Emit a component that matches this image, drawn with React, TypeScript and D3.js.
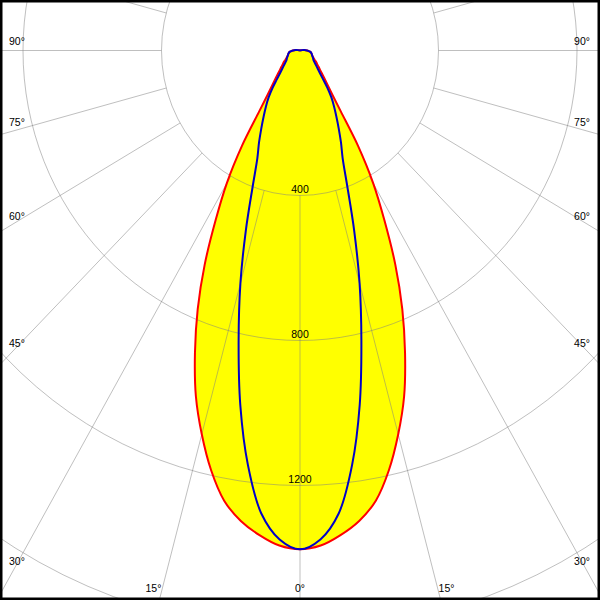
import React from "react";
import * as d3 from "d3";

// Polar angles (degrees from nadir) and luminous intensities (cd)
const angles = [
  0, 2.5, 5, 7.5, 10, 12.5, 15, 17.5, 20, 22.5, 25, 27.5, 30, 32.5, 35, 37.5, 40,
  42.5, 45, 47.5, 50, 52.5, 55, 57.5, 60, 62.5, 65, 67.5, 70, 72.5, 75, 77.5, 80,
  82.5, 85, 87.5, 90, 92.5, 95, 97.5, 100, 102.5, 105,
];
const planeC0 = [
  1376, 1367, 1342, 1309, 1261, 1186, 1096, 1000, 887, 772, 651, 528, 423, 312, 206,
  153, 124, 104, 89, 78, 70, 63, 58, 52, 47, 44, 41, 39, 37, 36, 35, 33.5, 32, 30, 27,
  24, 20, 16.5, 13, 10, 6, 3, 0,
];
const planeC90 = [
  1376, 1350, 1282, 1153, 993, 819, 665, 520, 400, 322, 280, 242, 210, 183, 158, 130,
  104, 86, 74, 65, 58, 52.5, 48, 45.5, 44, 42, 40, 38.5, 37, 36, 35, 33.5, 32, 30, 27,
  24, 20, 16.5, 13, 10, 6, 3, 0,
];
const ringValues = [400, 800, 1200, 1600];
const ringLabels = ["400", "800", "1200"];
const spokeAngles = d3.range(-180, 181, 15);
const angleLabels = [0, 15, 30, 45, 60, 75, 90];

const W = 600;
const H = 600;
const cx = 300;
const cy = 50.5;
const rx = d3.scaleLinear().domain([0, 1600]).range([0, 554]);
const ry = d3.scaleLinear().domain([0, 1600]).range([0, 580]);
const rad = (deg: number) => (deg * Math.PI) / 180;
const px = (deg: number, v: number) => cx - rx(v) * Math.sin(rad(deg));
const py = (deg: number, v: number) => cy + ry(v) * Math.cos(rad(deg));

function fullCurve(vals: number[]) {
  const pts: [number, number][] = [];
  for (let i = angles.length - 1; i >= 0; i--) pts.push([px(angles[i], vals[i]), py(angles[i], vals[i])]);
  for (let i = 1; i < angles.length; i++) pts.push([px(-angles[i], vals[i]), py(-angles[i], vals[i])]);
  return d3.line().curve(d3.curveCatmullRom.alpha(0.5))(pts) as string;
}

const GRID = "#808080";
const FONT = "'Liberation Sans', Arial, sans-serif";

export default function App() {
  const red = fullCurve(planeC0);
  const blue = fullCurve(planeC90);

  const leftLabelY = (a: number) => {
    if (a === 90) return cy - 5.5;
    const dx = cx - 18;
    const u = rx.invert(dx);
    const v = u / Math.tan(rad(a));
    return cy + ry(v) - 5.5 + ((90 - a) / 60) * 8.5;
  };
  const bottomX = (a: number) => {
    const yb = 588;
    const v = ry.invert(yb - cy);
    const u = v * Math.tan(rad(a));
    return rx(u);
  };

  return (
    <svg
      width={W}
      height={H}
      style={{ position: "fixed", left: 0, top: 0, background: "#fff" }}
    >
      <rect x={0} y={0} width={W} height={H} fill="#fff" />
      <path d={red} fill="#ffff00" stroke="none" />
      <g stroke={GRID} strokeOpacity={0.5} fill="none" strokeWidth={1}>
        {ringValues.map((v) => (
          <ellipse key={v} cx={cx} cy={cy} rx={rx(v)} ry={ry(v)} />
        ))}
        {spokeAngles.map((a) => (
          <line
            key={a}
            x1={px(a, 400)}
            y1={py(a, 400)}
            x2={px(a, 2400)}
            y2={py(a, 2400)}
          />
        ))}
      </g>
      <path d={red} fill="none" stroke="#ff0000" strokeWidth={2} />
      <path d={blue} fill="none" stroke="#0000c8" strokeWidth={2} />
      <g fontFamily={FONT} fontSize={10.5} fill="#000">
        {ringLabels.map((t, i) => (
          <text key={t} x={cx} y={cy + ry(ringValues[i]) - 3} textAnchor="middle">
            {t}
          </text>
        ))}
        {angleLabels.map((a) => {
          if (a === 0)
            return (
              <text key={a} x={cx} y={592} textAnchor="middle">
                0°
              </text>
            );
          if (a === 15)
            return (
              <g key={a}>
                <text x={cx - bottomX(a) - 1} y={592} textAnchor="end">
                  15°
                </text>
                <text x={cx + bottomX(a) + 1} y={592} textAnchor="start">
                  15°
                </text>
              </g>
            );
          const y = leftLabelY(a);
          return (
            <g key={a}>
              <text x={9} y={y} textAnchor="start">
                {a}°
              </text>
              <text x={590} y={y} textAnchor="end">
                {a}°
              </text>
            </g>
          );
        })}
      </g>
      <rect x={1.25} y={1.25} width={W - 2.5} height={H - 2.5} fill="none" stroke="#000" strokeWidth={2.5} />
    </svg>
  );
}
